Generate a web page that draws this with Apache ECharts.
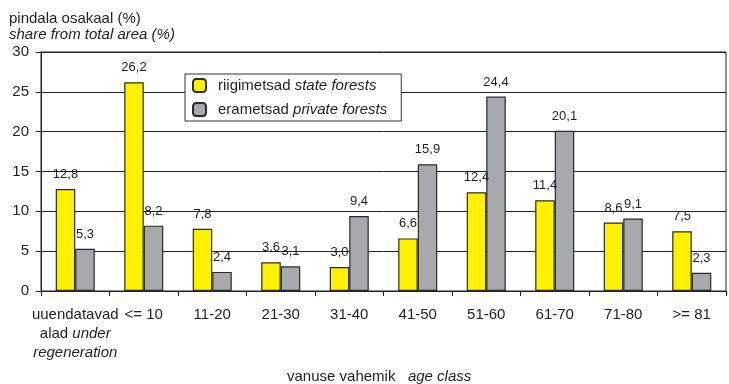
<!DOCTYPE html>
<html><head><meta charset="utf-8">
<script src="https://cdn.jsdelivr.net/npm/echarts@6/dist/echarts.min.js"></script>
<style>html,body{margin:0;padding:0;background:#fff}#c{width:729px;height:384px}</style>
</head><body><div id="c"></div>
<script>
const categories = ['uuendatavad\nalad {i|under}\n{i|regeneration}', '<= 10', '11-20', '21-30', '31-40', '41-50', '51-60', '61-70', '71-80', '>= 81'];
const stateForests = [12.8, 26.2, 7.8, 3.6, 3.0, 6.6, 12.4, 11.4, 8.6, 7.5];
const privateForests = [5.3, 8.2, 2.4, 3.1, 9.4, 15.9, 24.4, 20.1, 9.1, 2.3];
const yTicks = [0, 5, 10, 15, 20, 25, 30];

const FONT = '"Liberation Sans", Arial, sans-serif';
const TXT = '#231f20';
const chart = echarts.init(document.getElementById('c'), null, {renderer: 'canvas'});
const labelFmt = p => String(p.value.toFixed(1)).replace('.', ',');
chart.setOption({
  animation: false,
  textStyle: {fontFamily: FONT, color: TXT},
  grid: {left: 41, right: 3, top: 52, bottom: 93, show: true, borderColor: '#222', borderWidth: 1, backgroundColor: 'transparent'},
  legend: {
    orient: 'vertical', left: 185, top: 74,
    backgroundColor: '#fff', borderColor: '#333', borderWidth: 1,
    padding: [4, 14, 4, 7], itemWidth: 13, itemHeight: 13, itemGap: 9,
    data: ['state', 'private'],
    formatter: n => n === 'state' ? 'riigimetsad {i|state forests}' : 'erametsad {i|private forests}',
    textStyle: {fontFamily: FONT, fontSize: 15, color: TXT, padding: [0, 0, 0, 7],
      rich: {i: {fontStyle: 'italic', fontFamily: FONT, fontSize: 15, color: TXT}}}
  },
  xAxis: {
    type: 'category', data: categories,
    axisLine: {show: true, lineStyle: {color: '#222', width: 1}},
    axisTick: {show: true, length: 5, lineStyle: {color: '#222'}},
    axisLabel: {fontFamily: FONT, fontSize: 15, color: TXT, margin: 14, lineHeight: 19, interval: 0,
      rich: {i: {fontStyle: 'italic', fontFamily: FONT, fontSize: 15, color: TXT, lineHeight: 19}}}
  },
  yAxis: {
    type: 'value', min: 0, max: 30, interval: 5,
    axisLine: {show: true, lineStyle: {color: '#222', width: 1}},
    axisTick: {show: true, length: 5, lineStyle: {color: '#222'}},
    splitLine: {show: true, lineStyle: {color: '#222', width: 1}},
    axisLabel: {fontFamily: FONT, fontSize: 15, color: TXT, margin: 12,
      formatter: v => yTicks.includes(v) ? String(v) : ''}
  },
  series: [
    {name: 'state', type: 'bar', data: stateForests, barGap: '0%', barCategoryGap: '43%',
     itemStyle: {color: '#fff200', borderColor: '#2b2b2b', borderWidth: 1.2},
     label: {show: true, position: 'top', distance: 8, fontFamily: FONT, fontSize: 13, color: TXT, formatter: labelFmt}},
    {name: 'private', type: 'bar', data: privateForests,
     itemStyle: {color: '#a7a9ac', borderColor: '#2b2b2b', borderWidth: 1.2},
     label: {show: true, position: 'top', distance: 8, fontFamily: FONT, fontSize: 13, color: TXT, formatter: labelFmt}}
  ],
  graphic: [
    {type: 'text', left: 9, top: 11, style: {text: 'pindala osakaal (%)', font: '15px ' + FONT, fill: TXT}},
    {type: 'text', left: 9, top: 27, style: {text: 'share from total area (%)', font: 'italic 15px ' + FONT, fill: TXT}},
    {type: 'text', left: 287, top: 369, style: {text: 'vanuse vahemik   {i|age class}', font: '15px ' + FONT, fill: TXT,
      rich: {i: {fontStyle: 'italic', fontFamily: FONT, fontSize: 15, fill: TXT, color: TXT}}}}
  ]
});
</script></body></html>
